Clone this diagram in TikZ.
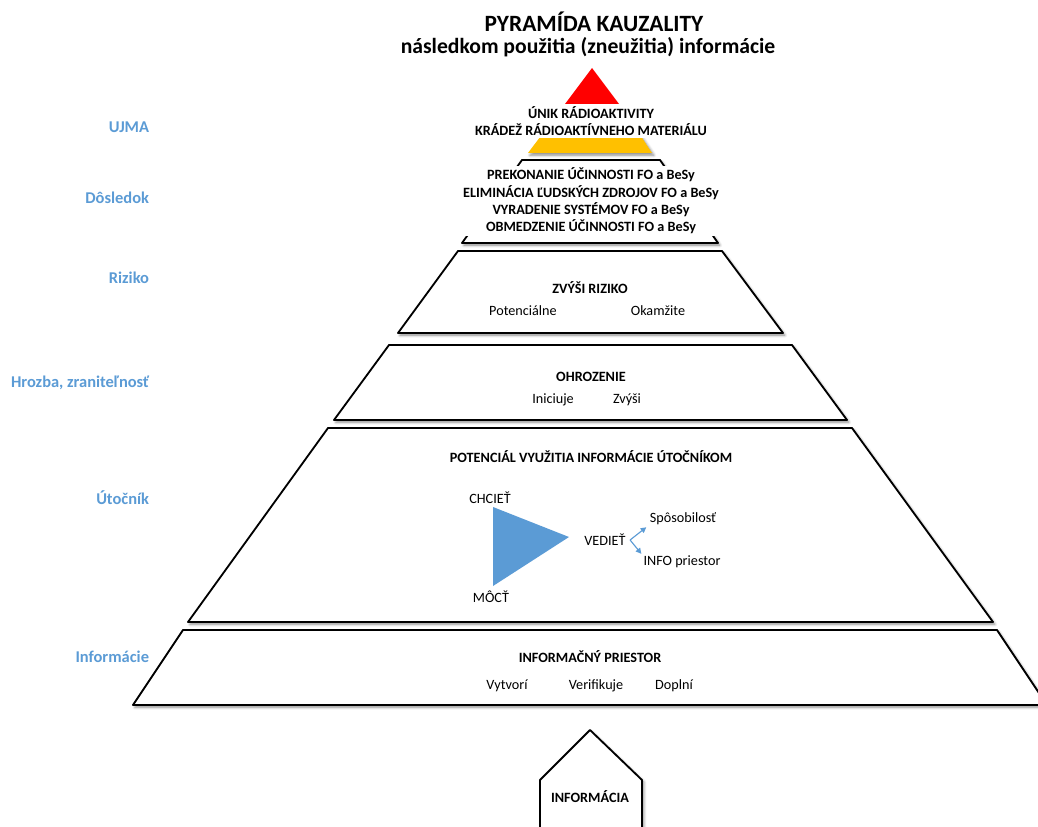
\documentclass[tikz,border=0pt]{standalone}
\usepackage{fontspec}
\setmainfont{Carlito}
\usepackage{tkz-euclide}
\usetikzlibrary{shadows.blur,arrows.meta,positioning}
\definecolor{sideblue}{HTML}{5B9BD5}
\definecolor{topred}{HTML}{FF0000}
\definecolor{topyellow}{HTML}{FFC000}

\tikzset{
  level/.style={draw=black, line width=1.3pt, fill=white,
    blur shadow={shadow xshift=1.3pt, shadow yshift=-1.6pt,
      shadow blur steps=6, shadow opacity=45}},
  sidelabel/.style={anchor=east, text=sideblue, font=\fontsize{11.7}{14}\selectfont\bfseries},
  headtext/.style={font=\fontsize{10.1}{12}\selectfont\bfseries, align=center},
  itemtext/.style={font=\fontsize{10.1}{12}\selectfont},
  coverbox/.style={fill=white, inner sep=1.5pt, align=center,
    font=\fontsize{10.1}{12.3}\selectfont\bfseries},
  fork/.style={draw=sideblue, line width=0.8pt, -{Triangle[length=4pt,width=4pt]}}
}

\begin{document}
\begin{tikzpicture}[x=0.025cm,y=0.025cm]
    \useasboundingbox (0,0) rectangle (1038,-827);
    % top of the pyramid
    \tkzDefPoint(592,-68){T}
    \tkzDefPoint(559,-112){Tl}
    \tkzDefPoint(625,-112){Tr}
    \tkzDefPoint(528,-153){Bl}
    \tkzDefPoint(652,-153){Br}
    \tkzDrawPolygon[draw=none,fill=topyellow,
      blur shadow={shadow xshift=1.3pt, shadow yshift=-1.6pt, shadow opacity=45}](Tl,Bl,Br,Tr)
    \tkzDrawPolygon[draw=none,fill=topred](T,Tl,Tr)
    % levels
    \tkzDefPoint(462,-243){D1}
    \tkzDefPoint(718,-243){D2}
    \tkzDefPoint(660,-160){D3}
    \tkzDefPoint(522,-160){D4}
    \tkzDrawPolygon[level](D1,D2,D3,D4)
    \tkzDefPoint(398,-333){R1}
    \tkzDefPoint(783,-333){R2}
    \tkzDefPoint(722,-251){R3}
    \tkzDefPoint(458,-251){R4}
    \tkzDrawPolygon[level](R1,R2,R3,R4)
    \tkzDefPoint(334,-420){H1}
    \tkzDefPoint(847,-420){H2}
    \tkzDefPoint(792,-345){H3}
    \tkzDefPoint(389,-345){H4}
    \tkzDrawPolygon[level](H1,H2,H3,H4)
    \tkzDefPoint(188,-622){U1}
    \tkzDefPoint(993,-622){U2}
    \tkzDefPoint(852,-428){U3}
    \tkzDefPoint(328,-428){U4}
    \tkzDrawPolygon[level](U1,U2,U3,U4)
    \tkzDefPoint(133,-705){I1}
    \tkzDefPoint(1047,-705){I2}
    \tkzDefPoint(997,-630){I3}
    \tkzDefPoint(183,-630){I4}
    \tkzDrawPolygon[level](I1,I2,I3,I4)
    % the house at the bottom
    \tkzDefPoint(540,-845){P1}
    \tkzDefPoint(540,-780){P2}
    \tkzDefPoint(590,-730){P3}
    \tkzDefPoint(642,-780){P4}
    \tkzDefPoint(642,-845){P5}
    \tkzDrawPolygon[level](P1,P2,P3,P4,P5)

    % title
    \node[font=\fontsize{16.6}{18}\selectfont\bfseries] (title) at (594,-22)
      {PYRAMÍDA KAUZALITY};
    \node[font=\fontsize{15.4}{18}\selectfont\bfseries] (subtitle) at (588,-47)
      {následkom použitia (zneužitia) informácie};

    % texts over the top
    \node[coverbox] (ujma) at (591,-121)
      {ÚNIK RÁDIOAKTIVITY\\ KRÁDEŽ RÁDIOAKTÍVNEHO MATERIÁLU};
    \node[coverbox] (dosledok) at (591,-201)
      {PREKONANIE ÚČINNOSTI FO a BeSy\\ ELIMINÁCIA ĽUDSKÝCH ZDROJOV FO a BeSy\\
       VYRADENIE SYSTÉMOV FO a BeSy\\ OBMEDZENIE ÚČINNOSTI FO a BeSy};

    % labels on the left
    \node[sidelabel] (lujma) at (154,-127) {UJMA};
    \node[sidelabel] (ldos) at (154,-198) {Dôsledok};
    \node[sidelabel] (lriz) at (154,-278) {Riziko};
    \node[sidelabel] (lhro) at (154,-383) {Hrozba, zraniteľnosť};
    \node[sidelabel] (luto) at (154,-498) {Útočník};
    \node[sidelabel] (linf) at (154,-657) {Informácie};

    % riziko
    \node[headtext] (riziko) at (590,-288) {ZVÝŠI RIZIKO};
    \node[itemtext] (poten) at (523,-311) {Potenciálne};
    \node[itemtext] (okam) at (658,-311) {Okamžite};
    % hrozba
    \node[headtext] (ohroz) at (591,-377) {OHROZENIE};
    \node[itemtext] (inic) at (553,-400) {Iniciuje};
    \node[itemtext] (zvysi) at (627,-400) {Zvýši};
    % utocnik
    \node[headtext] (poten2) at (591,-457) {POTENCIÁL VYUŽITIA INFORMÁCIE ÚTOČNÍKOM};
    \tkzDefPoint(493,-507){A}
    \tkzDefPoint(493,-586){B}
    \tkzDefPoint(569,-537){C}
    \tkzDrawPolygon[draw=none,fill=sideblue](A,B,C)
    \node[itemtext] (chciet) at (490,-498) {CHCIEŤ};
    \node[itemtext] (moct) at (491,-597) {MÔCŤ};
    \node[itemtext,inner sep=1pt] (vediet) at (605,-540) {VEDIEŤ};
    \node[itemtext] (sposob) at (683,-519) {Spôsobilosť};
    \node[itemtext] (infop) at (682,-562) {INFO priestor};
    \draw[fork] ([xshift=2pt]vediet.east) -- ([xshift=1pt,yshift=2pt]sposob.south west);
    \draw[fork] ([xshift=2pt]vediet.east) -- ([xshift=2pt,yshift=-2pt]infop.north west);
    % informacie
    \node[headtext] (ipriestor) at (590,-657) {INFORMAČNÝ PRIESTOR};
    \node[itemtext] (vytvori) at (507,-686) {Vytvorí};
    \node[itemtext] (verif) at (596,-686) {Verifikuje};
    \node[itemtext] (doplni) at (674,-686) {Doplní};
    \node[headtext] (informacia) at (590,-797) {INFORMÁCIA};
\end{tikzpicture}
\end{document}
